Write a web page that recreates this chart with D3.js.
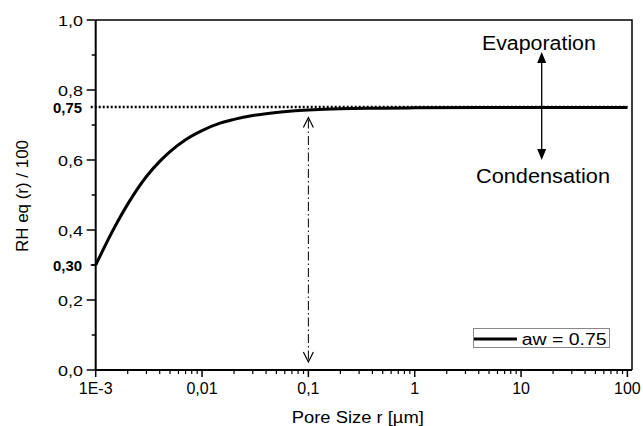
<!DOCTYPE html>
<html><head><meta charset="utf-8">
<script src="https://cdn.jsdelivr.net/npm/d3@7"></script>
<style>body{margin:0;background:#fff}svg{display:block}text{font-family:"Liberation Sans",Arial,sans-serif;fill:#000}</style>
</head><body><svg id="c" width="643" height="426"></svg>
<script>
const poreSize = [0.001,0.0015,0.002,0.003,0.004,0.005,0.007,0.01,0.015,0.02,0.03,0.05,0.07,0.1,0.2,0.5,1,10,100];
const rhEq =     [0.30,0.407,0.474,0.553,0.596,0.624,0.658,0.684,0.706,0.716,0.727,0.736,0.740,0.743,0.7466,0.748,0.749,0.75,0.75];
const xTicks = [0.001,0.01,0.1,1,10,100];
const xTickLabels = ["1E-3","0,01","0,1","1","10","100"];
const yTicks = [0,0.2,0.4,0.6,0.8,1.0];
const yTickLabels = ["0,0","0,2","0,4","0,6","0,8","1,0"];
const aw = 0.75, rhMin = 0.30;
const seriesName = "aw = 0.75";

const svg = d3.select("#c");
const L=95.7, R=627.4, T=20, B=370, frameR=632;
const x = d3.scaleLog().domain([0.001,100]).range([L,R]);
const y = d3.scaleLinear().domain([0,1]).range([B,T]);
const fit = (sel,w)=>sel.attr("textLength",w).attr("lengthAdjust","spacingAndGlyphs");

// frame
svg.append("path").attr("d",`M${L},${T}H${frameR}V${B}`).attr("fill","none").attr("stroke","#000").attr("stroke-width",1.5);

// x axis
const minorX=[];
for(let e=-3;e<2;e++) for(let k=2;k<=9;k++) minorX.push(k*Math.pow(10,e));
const xa = svg.append("g").attr("transform",`translate(0,${B})`);
xa.append("line").attr("x1",L).attr("x2",frameR).attr("stroke","#000").attr("stroke-width",2);
xa.selectAll(".mj").data(xTicks).join("line").attr("x1",d=>x(d)).attr("x2",d=>x(d)).attr("y1",0).attr("y2",7).attr("stroke","#000").attr("stroke-width",1.5);
xa.selectAll(".mn").data(minorX).join("line").attr("x1",d=>x(d)).attr("x2",d=>x(d)).attr("y1",0).attr("y2",4).attr("stroke","#000").attr("stroke-width",1.2);
xa.selectAll("text").data(xTicks).join("text").attr("x",d=>x(d)).attr("y",24).attr("text-anchor","middle").attr("font-size",16).text((d,i)=>xTickLabels[i]);

// y axis
const minorY=[0.1,0.3,0.5,0.7,0.9];
const ya = svg.append("g");
ya.append("line").attr("x1",L).attr("x2",L).attr("y1",T).attr("y2",B).attr("stroke","#000").attr("stroke-width",2);
ya.selectAll(".mj").data(yTicks).join("line").attr("x1",L-9).attr("x2",L).attr("y1",d=>y(d)).attr("y2",d=>y(d)).attr("stroke","#000").attr("stroke-width",1.5);
ya.selectAll(".mn").data(minorY).join("line").attr("x1",L-4).attr("x2",L).attr("y1",d=>y(d)).attr("y2",d=>y(d)).attr("stroke","#000").attr("stroke-width",1.5);
ya.selectAll(".tl").data(yTicks).join("text").attr("x",83).attr("y",d=>y(d)+5.5).attr("text-anchor","end").attr("font-size",15.5).text((d,i)=>yTickLabels[i]).call(fit,25);
// bold special labels
ya.append("text").attr("x",82).attr("y",y(aw)+5.5).attr("text-anchor","end").attr("font-size",15).attr("font-weight","bold").text("0,75").call(fit,29);
ya.append("text").attr("x",82).attr("y",y(rhMin)+5.5).attr("text-anchor","end").attr("font-size",15).attr("font-weight","bold").text("0,30").call(fit,29);
ya.append("line").attr("x1",L-5).attr("x2",L).attr("y1",y(rhMin)).attr("y2",y(rhMin)).attr("stroke","#000").attr("stroke-width",1.5);

// axis titles
svg.append("text").attr("x",357.8).attr("y",422.5).attr("text-anchor","middle").attr("font-size",16).text("Pore Size r [µm]").call(fit,132);
svg.append("text").attr("transform",`translate(28,196) rotate(-90)`).attr("text-anchor","middle").attr("font-size",17).text("RH eq (r) / 100").call(fit,112);

// curve
const line = d3.line().x((d,i)=>x(poreSize[i])).y(d=>y(d)).curve(d3.curveMonotoneX);
svg.append("path").attr("d",line(rhEq)).attr("fill","none").attr("stroke","#000").attr("stroke-width",3);

// dotted aw line
svg.append("line").attr("x1",L-5).attr("x2",R).attr("y1",y(aw)-0.5).attr("y2",y(aw)-0.5).attr("stroke","#000").attr("stroke-width",2.5).attr("stroke-dasharray","2,2");

// dash-dot vertical double arrow at 0.1
const vx = x(0.1), vTop = y(aw)+10, vBot = B-8;
svg.append("line").attr("x1",vx).attr("x2",vx).attr("y1",vTop+2).attr("y2",vBot-2).attr("stroke","#000").attr("stroke-width",1).attr("stroke-dasharray","9,3,1.5,3");
svg.append("path").attr("d",`M${vx-5},${vTop+10}L${vx},${vTop}L${vx+5},${vTop+10}`).attr("fill","none").attr("stroke","#000").attr("stroke-width",1.2);
svg.append("path").attr("d",`M${vx-5},${vBot-10}L${vx},${vBot}L${vx+5},${vBot-10}`).attr("fill","none").attr("stroke","#000").attr("stroke-width",1.2);

// evaporation/condensation arrow
const ax = 541.7, aTop = 52, aBot = 160;
svg.append("line").attr("x1",ax).attr("x2",ax).attr("y1",aTop+8).attr("y2",aBot-8).attr("stroke","#000").attr("stroke-width",1.3);
svg.append("path").attr("d",`M${ax-4.5},${aTop+11}L${ax},${aTop}L${ax+4.5},${aTop+11}Z`).attr("fill","#000");
svg.append("path").attr("d",`M${ax-4.5},${aBot-11}L${ax},${aBot}L${ax+4.5},${aBot-11}Z`).attr("fill","#000");
svg.append("text").attr("x",538.9).attr("y",50).attr("text-anchor","middle").attr("font-size",20).text("Evaporation").call(fit,114);
svg.append("text").attr("x",543).attr("y",183.3).attr("text-anchor","middle").attr("font-size",20.5).text("Condensation").call(fit,134);

// legend
const lg = svg.append("g");
lg.append("rect").attr("x",473.5).attr("y",328.5).attr("width",136).attr("height",19).attr("fill","#fff").attr("stroke","#888").attr("stroke-width",1);
lg.append("line").attr("x1",474).attr("x2",517).attr("y1",339).attr("y2",339).attr("stroke","#000").attr("stroke-width",3);
lg.append("text").attr("x",521.7).attr("y",345).attr("font-size",16).text(seriesName).call(fit,85);
</script></body></html>
